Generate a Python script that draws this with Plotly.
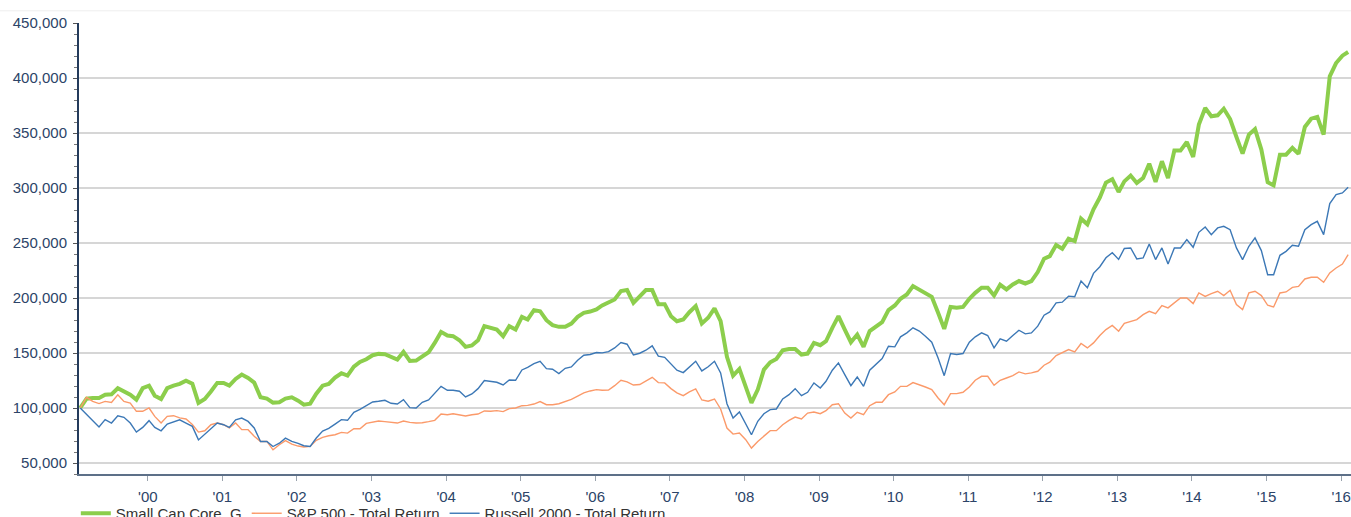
import calendar
import plotly.graph_objects as go

# ---------------- data ----------------
start_year, start_month, n_months = 2000, 2, 205


def month_ends(y, m, n):
    out = []
    for _ in range(n):
        out.append(f"{y:04d}-{m:02d}-{calendar.monthrange(y, m)[1]:02d}")
        m += 1
        if m > 12:
            m, y = 1, y + 1
    return out


dates = month_ends(start_year, start_month, n_months)

small_cap_core_g = [
    100000, 108500, 109000, 109100, 112000, 112400, 118000, 115000, 112100, 107600,
    118000, 120300, 111200, 108200, 118000, 120300, 122000, 124900, 122200, 104600,
    108200, 115000, 122800, 122800, 120300, 126400, 130400, 127300, 123100, 109700,
    108500, 104900, 105200, 108500,
    109700, 106700, 103000, 104000, 113000, 120300, 121900, 127600, 131600, 129400,
    137600, 141900, 144300, 148000, 149200, 148900, 146100, 144000, 151000, 142800,
    143100, 147000, 150700, 159200, 169200, 165900, 165300, 161600, 155600, 156800,
    161600, 174400, 172600,
    171300, 165300, 174400, 171300, 182900, 180500, 189000, 188000, 179800, 175300,
    173800, 173800, 176800, 182900, 186500, 187700, 189600, 193200, 195900, 198700,
    206300, 207200, 195600, 201100, 207200, 207200, 194400, 194400, 183500, 178900,
    180500, 187100, 192600,
    176800, 182000, 190500, 179000, 146500, 129400, 135500, 119700, 104600, 116700,
    134900, 141600, 144600, 152500, 153700, 153700, 148600, 149500, 159200, 157100,
    160700, 172900, 183500, 171300, 159800, 166800, 155600, 169900, 174400, 178000,
    189000, 193200, 199300, 203200, 210800, 207200,
    204100, 201100, 186500, 171900, 191900, 191100, 191900, 199300, 204700, 209300,
    209300, 202300, 212000, 207800, 212300, 215400, 213200, 215400, 223600, 235700,
    238100, 248200, 244800, 253900, 251800, 272100, 267000, 280600, 291300, 304900,
    308000, 296400,
    306000, 311300, 304600, 309100, 322100, 305500, 324300, 309100, 334000, 334000,
    341800, 328200, 357600, 372700, 365200, 366100, 372100, 362700, 346400, 331200,
    348500, 353600, 334900, 305200, 302400, 330300, 330300, 336400, 331000, 355500,
    363000, 364600, 348500, 401500, 413600, 420300, 423600,
]

sp500_total_return = [
    100000, 109700, 106000, 104000, 106000, 105000, 112000, 106000, 104500, 97000,
    97000, 100000, 92400, 86300, 92400, 93000, 91000, 90000, 85000, 78100,
    79300, 84800, 86300, 84800, 81800, 86300, 80300, 80300, 74300, 69600,
    69600, 62000, 66600, 70400,
    67200, 65400, 64500, 65100, 70600, 73300, 74800, 75700, 77800, 77200,
    81200, 81200, 86000, 87200, 88200, 87600, 86900, 86300, 88200, 86900,
    86300, 86600, 87600, 88800, 94500, 93900, 94800, 93900, 92700, 93900,
    94500, 97300, 97000,
    97600, 96700, 99400, 100000, 102100, 102400, 103600, 105800, 103000, 103000,
    103900, 105800, 107900, 110900, 113700, 115500, 116700, 116100, 116400, 120300,
    125200, 123700, 120900, 121300, 124900, 127900, 123100, 122800, 117600, 113700,
    111200, 114600, 117300,
    107300, 106200, 108200, 99100, 81800, 76300, 77200, 71200, 63600, 69600,
    74800, 79400, 79400, 84800, 88800, 91800, 90000, 95400, 96400, 94800,
    97600, 103000, 103900, 95400, 90900, 96100, 93900, 102100, 105200, 105200,
    112100, 114600, 119700, 119700, 123100, 121300,
    119100, 116700, 109100, 103000, 113100, 113100, 114300, 119100, 125200, 128800,
    128800, 120600, 125200, 127300, 129400, 132800, 131000, 131900, 133400, 138900,
    141600, 147700, 150100, 153100, 151000, 158600, 154600, 159200, 165900, 171300,
    175000, 169800,
    177000, 178800, 180300, 184900, 187900, 185800, 193100, 191000, 195500, 200000,
    200000, 194900, 204600, 201500, 204000, 206100, 202200, 207000, 194000, 189400,
    204600, 206100, 202200, 193400, 191800, 204600, 205500, 209700, 210600, 217300,
    218800, 218800, 214300, 222800, 227300, 230900, 239400,
]

russell_2000_total_return = [
    100000, 94000, 88000, 82700, 89400, 86300, 93000, 91500, 86300, 78100,
    82400, 88500, 82400, 79300, 85400, 87200, 89300, 86300, 83300, 71000,
    76200, 81500, 86300, 84800, 82400, 89300, 90800, 87800, 81800, 69600,
    69600, 65000, 68000, 72600,
    69600, 67800, 65700, 65100, 72700, 79100, 81500, 85400, 89400, 88800,
    96100, 98800, 101800, 105500, 106100, 107000, 104300, 103600, 107600, 100300,
    100000, 105200, 107300, 113700, 119700, 116100, 116100, 115200, 110000, 112800,
    117600, 124900, 124300,
    123400, 120900, 125500, 125200, 134600, 137000, 140400, 142500, 135800, 135200,
    131300, 136100, 137300, 143400, 148000, 148600, 150400, 150100, 151300, 154600,
    159500, 158000, 148300, 149800, 152500, 156500, 147100, 146100, 139500, 134300,
    132200, 137300, 142500,
    133700, 137500, 142500, 131900, 103900, 90900, 96400, 84800, 75700, 87900,
    94800, 98500, 99100, 108200, 112100, 117600, 111200, 114300, 122800, 118200,
    124300, 134300, 141000, 130400, 120300, 128200, 119700, 134300, 140100, 144900,
    156200, 155600, 164700, 168300, 172900, 170000,
    165300, 159800, 145500, 129400, 149500, 148600, 149500, 159800, 164700, 168300,
    165900, 154600, 162800, 160700, 165900, 170700, 167400, 168300, 174400, 184400,
    187400, 195600, 196200, 201700, 201100, 215400, 209300, 222400, 228400, 236600,
    241200, 235100,
    245000, 245500, 235500, 236400, 249100, 234900, 245500, 230900, 245500, 245500,
    253100, 246100, 259700, 264600, 257600, 263700, 265200, 262100, 245500, 234900,
    247000, 254600, 243100, 221200, 221200, 238800, 242400, 247900, 247000, 262100,
    266700, 269700, 257600, 285800, 294000, 295500, 300600,
]

assert len(small_cap_core_g) == len(sp500_total_return) == len(russell_2000_total_return) == len(dates)

series_names = ["Small Cap Core_G", "S&P 500 - Total Return", "Russell 2000 - Total Return"]
tick_years = list(range(2000, 2017))
tick_labels = [f"'{y % 100:02d}" for y in tick_years]
tick_dates = [f"{y + 1}-01-25" for y in tick_years]
y_ticks = [50000, 100000, 150000, 200000, 250000, 300000, 350000, 400000, 450000]

# ---------------- styles ----------------
GREEN = "#8cce4c"
ORANGE = "#fb9a6a"
BLUE = "#3c78b6"
LABEL = "#2c4468"
FONT = "Liberation Sans, Arial, sans-serif"

fig = go.Figure()
fig.add_trace(go.Scatter(x=dates, y=small_cap_core_g, name=series_names[0], mode="lines",
                         line=dict(color=GREEN, width=4)))
fig.add_trace(go.Scatter(x=dates, y=sp500_total_return, name=series_names[1], mode="lines",
                         line=dict(color=ORANGE, width=1.4)))
fig.add_trace(go.Scatter(x=dates, y=russell_2000_total_return, name=series_names[2], mode="lines",
                         line=dict(color=BLUE, width=1.4)))

fig.update_layout(
    width=1351, height=517,
    margin=dict(l=79, r=0, t=23, b=43, autoexpand=False),
    paper_bgcolor="white", plot_bgcolor="white",
    font=dict(family=FONT, size=15, color=LABEL),
    showlegend=True,
    legend=dict(orientation="h", x=-0.0025, xanchor="left", y=-0.051, yanchor="top",
                font=dict(family=FONT, size=15, color="#333333"),
                bgcolor="rgba(0,0,0,0)", itemwidth=30, traceorder="normal"),
    xaxis=dict(type="date", range=["2000-02-23", "2017-03-14"],
               tickmode="array", tickvals=tick_dates, ticktext=tick_labels,
               showgrid=False, zeroline=False,
               showline=True, linecolor="#5d7088", linewidth=2,
               ticks="outside", ticklen=5, tickcolor="#9aa3ad", tickwidth=1,
               tickfont=dict(family=FONT, size=15, color=LABEL), ticklabelstandoff=3),
    yaxis=dict(range=[40000, 450000], tickmode="array", tickvals=y_ticks,
               tickformat=",d", showgrid=True, gridcolor="#d6d6d6", gridwidth=1.5,
               zeroline=False, showline=True, linecolor="#243b5c", linewidth=2,
               ticks="outside", ticklen=4, tickcolor="#555555", tickwidth=1,
               minor=dict(dtick=10000, ticklen=3, tickcolor="#777777", ticks="outside", showgrid=False),
               tickfont=dict(family=FONT, size=15, color=LABEL), ticklabelstandoff=3),
)

fig.add_shape(type="line", xref="paper", yref="paper", x0=-0.07, x1=1.0, y0=1.027, y1=1.027,
              line=dict(color="#eeeeee", width=1))

fig.write_html("out.html", config={"displayModeBar": False},
               post_script="document.body.style.margin='0';document.body.style.overflow='hidden';")
